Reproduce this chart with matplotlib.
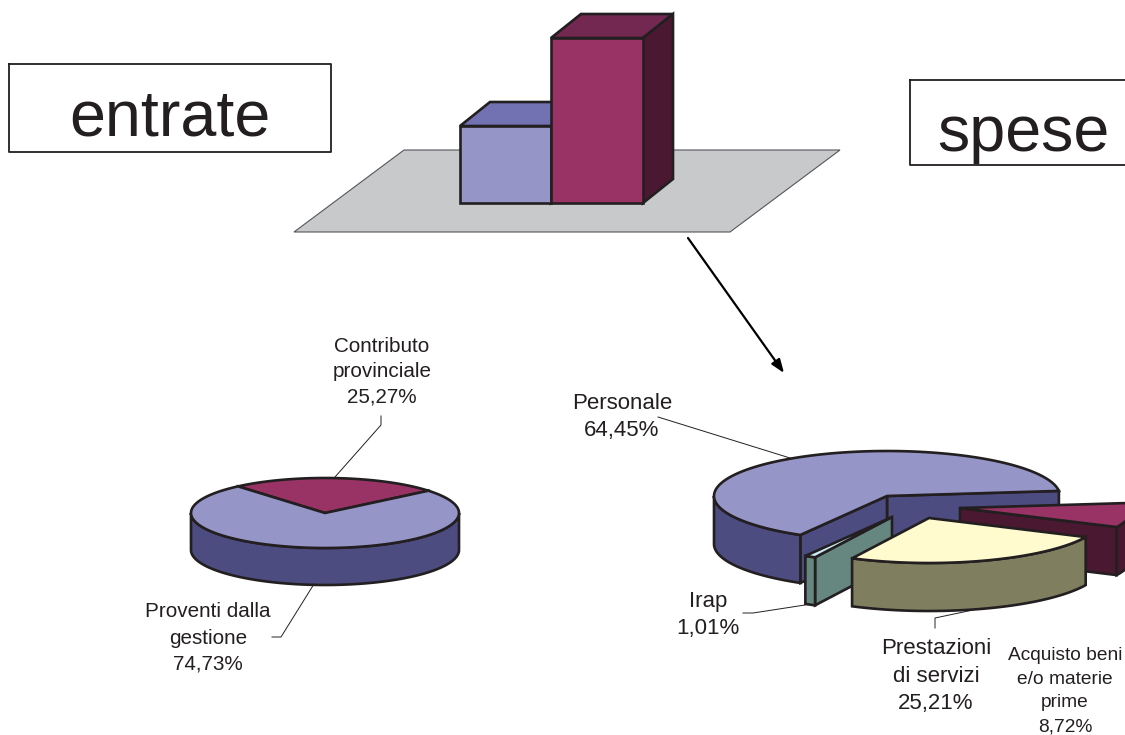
import numpy as np
import matplotlib
matplotlib.use("Agg")
import matplotlib.pyplot as plt

plt.rcParams['font.family'] = ['Liberation Sans', 'DejaVu Sans']

# dati
bar_values = [77, 165]
bar_colors = ['#9595C8', '#993366']
bar_top_colors = ['#7272B2', '#722850']
bar_side_colors = ['#5A5A96', '#4A1830']

entrate_labels = ['Contributo\nprovinciale\n25,27%', 'Proventi dalla\ngestione\n74,73%']
entrate_values = [25.27, 74.73]
entrate_tops = ['#993366', '#9595C8']
entrate_sides = ['#4A1830', '#4C4C80']

spese_labels = ['Personale\n64,45%', 'Irap\n1,01%', 'Prestazioni\ndi servizi\n25,21%',
                'Acquisto beni\ne/o materie\nprime\n8,72%']
spese_values = [64.45, 1.01, 25.21, 8.72]
spese_tops = ['#9595C8', '#CCECF5', '#FFFBCF', '#993366']
spese_sides = ['#4C4C80', '#66877F', '#7F7F5F', '#4A1830']

EDGE = '#231F20'
LW = 1.9


def arc(cx, cy, rx, ry, a0, a1, n=120):
    t = np.radians(np.linspace(a0, a1, n))
    return cx + rx * np.cos(t), cy - ry * np.sin(t)


def draw_slice(ax, cx, cy, rx, ry, depth, a0, a1, top, side):
    # facce di taglio verso chi guarda
    for ang, normal in ((a0, a0 - 90), (a1, a1 + 90)):
        if np.sin(np.radians(normal)) < 0:
            px, py = arc(cx, cy, rx, ry, ang, ang, 1)
            ax.fill([cx, px[0], px[0], cx], [cy, py[0], py[0] + depth, cy + depth],
                    facecolor=side, edgecolor=EDGE, lw=LW)
    # parete esterna, solo la parte anteriore
    for lo, hi in ((180, 360), (540, 720)):
        s, e = max(a0, lo), min(a1, hi)
        if s < e:
            x, y = arc(cx, cy, rx, ry, s, e)
            ax.fill(np.r_[x, x[::-1]], np.r_[y, y[::-1] + depth],
                    facecolor=side, edgecolor=EDGE, lw=LW)
    # faccia superiore
    x, y = arc(cx, cy, rx, ry, a0, a1)
    ax.fill(np.r_[cx, x], np.r_[cy, y], facecolor=top, edgecolor=EDGE, lw=LW, joinstyle='miter')


def slice_angles(values, start):
    edges = start + np.r_[0, np.cumsum(values)] / np.sum(values) * 360
    return list(zip(edges[:-1], edges[1:]))


fig = plt.figure(figsize=(11.25, 7.35), dpi=100)
ax = fig.add_axes([0, 0, 1, 1])
ax.set_xlim(0, 1125)
ax.set_ylim(735, 0)
ax.axis('off')

# piano grigio
ax.fill([404, 840, 730, 294], [150, 150, 232, 232], facecolor='#C8C9CB', edgecolor='#55565A', lw=0.8)

# barre 3D
base = 203
lefts = [460, 551]
width = [91, 92]
dx, dy = 30, 24
for i in [0, 1]:
    h = bar_values[i]
    x0, x1 = lefts[i], lefts[i] + width[i]
    ax.fill([x0, x1, x1 + dx, x0 + dx], [base - h, base - h, base - h - dy, base - h - dy],
            facecolor=bar_top_colors[i], edgecolor=EDGE, lw=LW)
    ax.fill([x1, x1 + dx, x1 + dx, x1], [base - h, base - h - dy, base - dy, base],
            facecolor=bar_side_colors[i], edgecolor=EDGE, lw=LW)
for i in [0, 1]:
    ax.bar(lefts[i], -bar_values[i], width=width[i], bottom=base, align='edge',
           facecolor=bar_colors[i], edgecolor=EDGE, lw=LW)

# freccia
ax.annotate('', xy=(784, 373), xytext=(688, 238),
            arrowprops=dict(arrowstyle='-|>,head_length=0.8,head_width=0.3', color='black',
                            lw=1.6, shrinkA=0, shrinkB=0))

# titoli
for (x0, y0, x1, y1), word, tx, ty in [((9, 64, 331, 152), 'entrate', 170, 118),
                                       ((910, 80, 1130, 165), 'spese', 1023, 134)]:
    ax.plot([x0, x1, x1, x0, x0], [y0, y0, y1, y1, y0], color=EDGE, lw=1.3)
    ax.text(tx, ty, word, fontsize=46.5, ha='center', va='center', color=EDGE)

# torta entrate
ent = slice_angles(entrate_values, 39.5)
for (a0, a1), top, side in zip(ent, entrate_tops, entrate_sides):
    draw_slice(ax, 325, 513, 134, 35, 37, a0, a1, top, side)

# torta spese: centri spostati per gli spicchi esplosi
spe = slice_angles(spese_values, 6.5)
centers = [(887, 496), (892, 517), (929, 518), (960, 508)]
for i in [0, 3, 1, 2]:
    draw_slice(ax, centers[i][0], centers[i][1], 173, 45, 48, spe[i][0], spe[i][1],
               spese_tops[i], spese_sides[i])

# linee guida
leaders = [([381, 381, 335], [416, 425, 477]),
           ([314, 281, 272], [584, 637, 637]),
           ([658, 790], [417, 458]),
           ([743, 753, 805], [613, 613, 605]),
           ([935, 935, 973], [628, 618, 610])]
for lx, ly in leaders:
    ax.plot(lx, ly, color=EDGE, lw=0.7)

# etichette
label_pos = [(382, 371.5), (208, 638)]
spacing = [1.43, 1.47]
for txt, (x, y), ls in zip(entrate_labels, label_pos, spacing):
    ax.text(x, y, txt, fontsize=14.9, ha='center', va='center', color=EDGE, linespacing=ls)
label_pos = [(622, 417), (708, 615), (936, 676), (1065, 691)]
sizes = [16, 16, 16, 13.8]
spacing = [1.39, 1.39, 1.39, 1.52]
for txt, (x, y), fs, ls in zip(spese_labels, label_pos, sizes, spacing):
    ax.text(x, y, txt, fontsize=fs, ha='center', va='center', color=EDGE, linespacing=ls)

fig.savefig('out.png', dpi=100)
